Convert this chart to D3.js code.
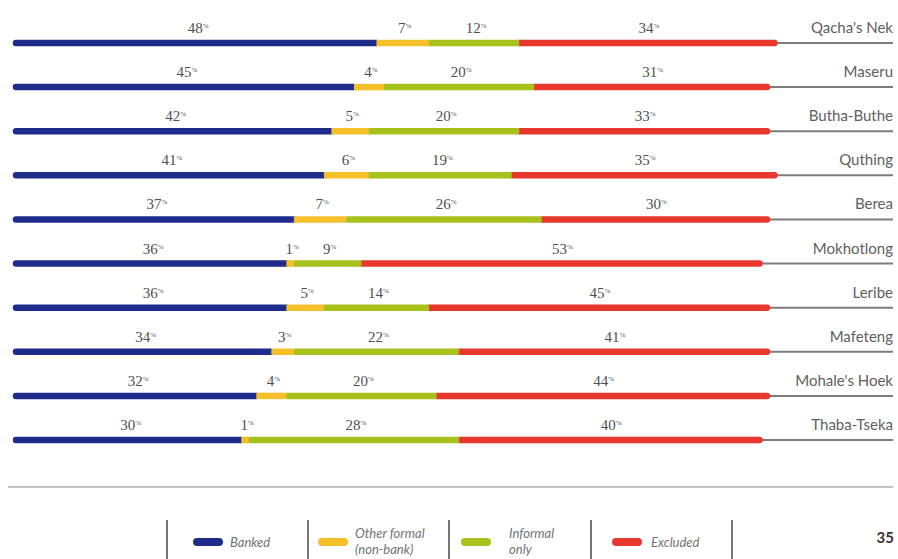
<!DOCTYPE html>
<html>
<head>
<meta charset="utf-8">
<script src="https://cdn.jsdelivr.net/npm/d3@7"></script>
<style>
  html, body { margin: 0; padding: 0; background: #fff; }
  svg { display: block; }
</style>
</head>
<body>
<svg id="chart" width="898" height="559"></svg>
<script>
// Districts, top to bottom
const districts = ["Qacha's Nek", "Maseru", "Butha-Buthe", "Quthing", "Berea",
  "Mokhotlong", "Leribe", "Mafeteng", "Mohale's Hoek", "Thaba-Tseka"];

// Share of adults (%) in each access strand
const banked      = [48, 45, 42, 41, 37, 36, 36, 34, 32, 30];
const otherFormal = [7, 4, 5, 6, 7, 1, 5, 3, 4, 1];
const informal    = [12, 20, 20, 19, 26, 9, 14, 22, 20, 28];
const excluded    = [34, 31, 33, 35, 30, 53, 45, 41, 44, 40];

const seriesKeys = ["banked", "otherFormal", "informal", "excluded"];
const seriesNames = ["Banked", ["Other formal", "(non-bank)"], ["Informal", "only"], "Excluded"];
const colors = ["#1f2c8c", "#f6c02b", "#a8c11c", "#e8372c"];
const pageNumber = "35";

const rows = districts.map((d, i) => ({
  district: d,
  banked: banked[i], otherFormal: otherFormal[i],
  informal: informal[i], excluded: excluded[i]
}));

const svg = d3.select("#chart");

const x = d3.scaleLinear().domain([0, 100]).range([16, 767]);
const y = d3.scalePoint().domain(districts).range([43, 440]);
const color = d3.scaleOrdinal().domain(seriesKeys).range(colors);

const stack = d3.stack().keys(seriesKeys)(rows);

// Grey guide line per row, running to the district name
svg.append("g").selectAll("line")
  .data(rows).join("line")
  .attr("x1", x(0)).attr("x2", 893)
  .attr("y1", d => y(d.district)).attr("y2", d => y(d.district))
  .attr("stroke", "#7d7d7d").attr("stroke-width", 2);

// Bars: outer segments get round ends, drawn first so inner segments overlap the caps
const drawOrder = [3, 0, 1, 2];
const barW = 6.5;
const bars = svg.append("g");
drawOrder.forEach(si => {
  const layer = stack[si];
  bars.append("g").selectAll("line")
    .data(layer).join("line")
    .attr("x1", d => x(d[0])).attr("x2", d => x(d[1]))
    .attr("y1", d => y(d.data.district)).attr("y2", d => y(d.data.district))
    .attr("stroke", color(layer.key))
    .attr("stroke-width", barW)
    .attr("stroke-linecap", (si === 0 || si === 3) ? "round" : "butt");
});

// Value labels centred over each segment
const labels = svg.append("g")
  .attr("font-family", "'Liberation Serif', 'DejaVu Serif', serif")
  .attr("fill", "#505050")
  .attr("text-anchor", "middle");
stack.forEach(layer => {
  layer.forEach(d => {
    const v = d.data[layer.key];
    const t = labels.append("text")
      .attr("x", (x(d[0]) + x(d[1])) / 2 + 2)
      .attr("y", y(d.data.district) - 10)
      .attr("font-size", 15);
    t.append("tspan").text(v);
    t.append("tspan").attr("font-size", 7).attr("dy", -5).text("%");
  });
});

// District names at the right
svg.append("g").selectAll("text")
  .data(rows).join("text")
  .attr("x", 893).attr("y", d => y(d.district) - 10)
  .attr("text-anchor", "end")
  .attr("font-family", "Lato, 'Open Sans', sans-serif")
  .attr("font-size", 15)
  .attr("fill", "#606060")
  .text(d => d.district);

// Footer rule
svg.append("line")
  .attr("x1", 8).attr("x2", 893).attr("y1", 487).attr("y2", 487)
  .attr("stroke", "#c4c4c4").attr("stroke-width", 2);

// Legend
const sepX = [167, 308, 449, 591, 732];
svg.append("g").selectAll("line")
  .data(sepX).join("line")
  .attr("x1", d => d).attr("x2", d => d)
  .attr("y1", 520).attr("y2", 559)
  .attr("stroke", "#777").attr("stroke-width", 2);

const swatchX = [193, 318, 461, 612];
const textX = [230, 355, 509, 651];
const legend = svg.append("g")
  .attr("font-family", "Lato, 'Open Sans', sans-serif")
  .attr("font-style", "italic")
  .attr("font-size", 13)
  .attr("fill", "#737373");
seriesKeys.forEach((k, i) => {
  legend.append("line")
    .attr("x1", swatchX[i] + 4).attr("x2", swatchX[i] + 26)
    .attr("y1", 542).attr("y2", 542)
    .attr("stroke", color(k)).attr("stroke-width", 8)
    .attr("stroke-linecap", "round");
  const name = seriesNames[i];
  if (Array.isArray(name)) {
    name.forEach((line, j) => {
      legend.append("text").attr("x", textX[i]).attr("y", 538 + j * 16).text(line);
    });
  } else {
    legend.append("text").attr("x", textX[i]).attr("y", 547).text(name);
  }
});

// Page number
svg.append("text")
  .attr("x", 894).attr("y", 543)
  .attr("text-anchor", "end")
  .attr("font-family", "Lato, 'Open Sans', sans-serif")
  .attr("font-weight", "bold")
  .attr("font-size", 15)
  .attr("fill", "#333")
  .text(pageNumber);
</script>
</body>
</html>
